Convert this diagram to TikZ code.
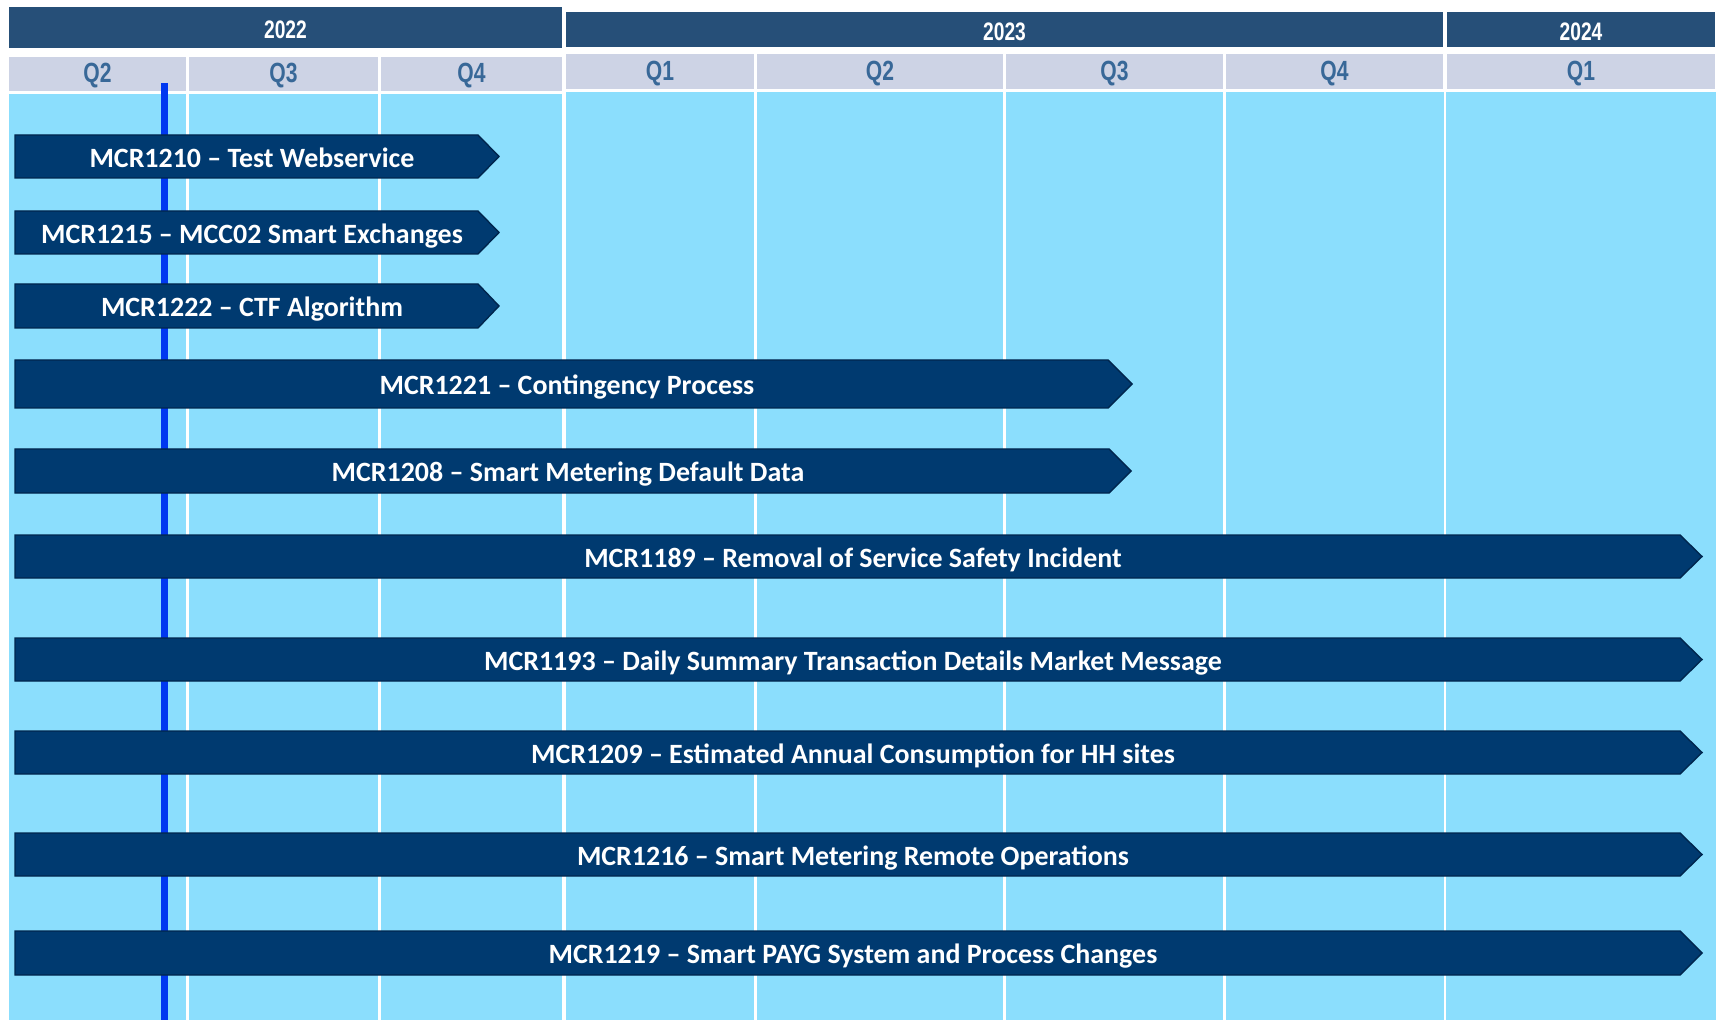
\documentclass[tikz,border=0pt]{standalone}
\usepackage{fontspec}
\setmainfont{Carlito}
\newfontfamily\narrowfont{Liberation Sans}[FakeStretch=0.76]

\definecolor{yearblue}{RGB}{38,79,120}
\definecolor{qgrey}{RGB}{205,211,229}
\definecolor{qtextblue}{RGB}{56,104,152}
\definecolor{lightsky}{RGB}{139,222,253}
\definecolor{todayblue}{RGB}{0,56,240}
\definecolor{barfill}{RGB}{0,58,112}
\definecolor{barline}{RGB}{0,38,78}

\tikzset{
  year/.style={fill=yearblue},
  quarter/.style={fill=qgrey},
  yeartext/.style={text=white,font=\narrowfont\bfseries\fontsize{14.4}{16}\selectfont},
  qtext/.style={text=qtextblue,font=\narrowfont\bfseries\fontsize{15.8}{17}\selectfont},
  bar/.style={fill=barfill,draw=barline,line width=0.8pt,line join=miter},
  bartext/.style={text=white,font=\bfseries\fontsize{15.9}{18}\selectfont,
    text height=14pt,text depth=1.6pt,inner sep=0pt}
}

\begin{document}
\begin{tikzpicture}[x=0.02cm,y=-0.02cm]
	\useasboundingbox (0,0) rectangle (1721,1020);
	% years
	\fill[year] (9,7) rectangle (562,48);
	\draw (285.5,29.5) node [yeartext] (y2022) {2022};
	\fill[year] (566,12) rectangle (1443,47);
	\draw (1004.5,31.5) node [yeartext] (y2023) {2023};
	\fill[year] (1447,12) rectangle (1715,47);
	\draw (1581,31.5) node [yeartext] (y2024) {2024};
	% quarters
	\fill[quarter] (9,57) rectangle (186,91);
	\draw (97.5,76) node [qtext] (q2a) {Q2};
	\fill[quarter] (189,57) rectangle (378,91);
	\draw (283.5,76) node [qtext] (q3a) {Q3};
	\fill[quarter] (381,57) rectangle (562,91);
	\draw (471.5,76) node [qtext] (q4a) {Q4};
	\fill[quarter] (566,54) rectangle (754,89);
	\draw (660,73.5) node [qtext] (q1b) {Q1};
	\fill[quarter] (757,54) rectangle (1003,89);
	\draw (880,73.5) node [qtext] (q2b) {Q2};
	\fill[quarter] (1006,54) rectangle (1223,89);
	\draw (1114.5,73.5) node [qtext] (q3b) {Q3};
	\fill[quarter] (1226,54) rectangle (1443,89);
	\draw (1334.5,73.5) node [qtext] (q4b) {Q4};
	\fill[quarter] (1447,54) rectangle (1715,89);
	\draw (1581,73.5) node [qtext] (q1c) {Q1};
	% background and grid
	\fill[lightsky] (9,94) rectangle (562,1020);
	\fill[lightsky] (566,92) rectangle (1716,1020);
	\draw[white,line width=2.5*0.02cm] (187.5,94) -- (187.5,1020)
		(379.5,94) -- (379.5,1020)
		(755.5,92) -- (755.5,1020)
		(1004.5,92) -- (1004.5,1020)
		(1224.5,92) -- (1224.5,1020)
		(1445,92) -- (1445,1020);
	% today
	\draw[todayblue,line width=7*0.02cm] (164.5,83) -- (164.5,1020);
	% changes
	\draw[bar] (15,135) -- (478,135) -- (499,156.5) -- (478,178) -- (15,178) -- cycle;
	\draw (252,156.5) node [bartext] (mcr1210) {MCR1210 – Test Webservice};
	\draw[bar] (15,211) -- (478,211) -- (499,232.5) -- (478,254) -- (15,254) -- cycle;
	\draw (252,232.5) node [bartext] (mcr1215) {MCR1215 – MCC02 Smart Exchanges};
	\draw[bar] (15,284) -- (478,284) -- (499,306) -- (478,328) -- (15,328) -- cycle;
	\draw (252,306) node [bartext] (mcr1222) {MCR1222 – CTF Algorithm};
	\draw[bar] (15,360) -- (1108,360) -- (1132,384) -- (1108,408) -- (15,408) -- cycle;
	\draw (567,384) node [bartext] (mcr1221) {MCR1221 – Contingency Process};
	\draw[bar] (15,449) -- (1109,449) -- (1131,471) -- (1109,493) -- (15,493) -- cycle;
	\draw (568,471) node [bartext] (mcr1208) {MCR1208 – Smart Metering Default Data};
	\draw[bar] (15,535) -- (1680,535) -- (1702,556.5) -- (1680,578) -- (15,578) -- cycle;
	\draw (853,556.5) node [bartext] (mcr1189) {MCR1189 – Removal of Service Safety Incident};
	\draw[bar] (15,638) -- (1680,638) -- (1702,659.5) -- (1680,681) -- (15,681) -- cycle;
	\draw (853,659.5) node [bartext] (mcr1193) {MCR1193 – Daily Summary Transaction Details Market Message};
	\draw[bar] (15,731) -- (1680,731) -- (1702,752.5) -- (1680,774) -- (15,774) -- cycle;
	\draw (853,752.5) node [bartext] (mcr1209) {MCR1209 – Estimated Annual Consumption for HH sites};
	\draw[bar] (15,833) -- (1680,833) -- (1702,854.5) -- (1680,876) -- (15,876) -- cycle;
	\draw (853,854.5) node [bartext] (mcr1216) {MCR1216 – Smart Metering Remote Operations};
	\draw[bar] (15,931) -- (1680,931) -- (1702,953) -- (1680,975) -- (15,975) -- cycle;
	\draw (853,953) node [bartext] (mcr1219) {MCR1219 – Smart PAYG System and Process Changes};
\end{tikzpicture}
\end{document}
